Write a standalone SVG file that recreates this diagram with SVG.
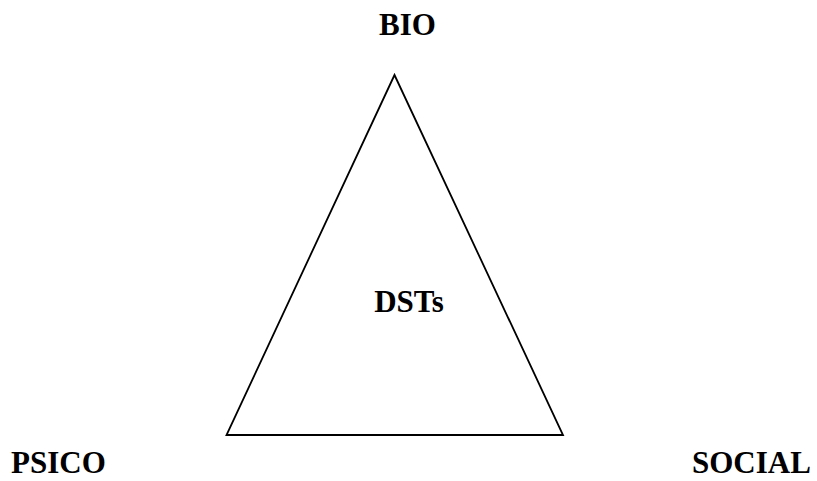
<svg xmlns="http://www.w3.org/2000/svg" width="817" height="481" viewBox="0 0 817 481">
  <style>
    .lbl { font-family: "Liberation Serif", "Times New Roman", serif; font-weight: bold; font-size: 31px; fill: #000; }
    .edge { fill: none; stroke: #000; stroke-width: 1.8; stroke-linejoin: miter; }
  </style>
  <rect width="817" height="481" fill="#fff"/>
  <g id="connectors">
    <polygon class="edge" points="394.5,75 226.5,435 563,435"/>
  </g>
  <g id="node-bio">
    <text class="lbl" x="407.5" y="35" text-anchor="middle">BIO</text>
  </g>
  <g id="node-dsts">
    <text class="lbl" x="409" y="312" text-anchor="middle">DSTs</text>
  </g>
  <g id="node-psico">
    <text class="lbl" x="11" y="473">PSICO</text>
  </g>
  <g id="node-social">
    <text class="lbl" x="692" y="473">SOCIAL</text>
  </g>
</svg>
